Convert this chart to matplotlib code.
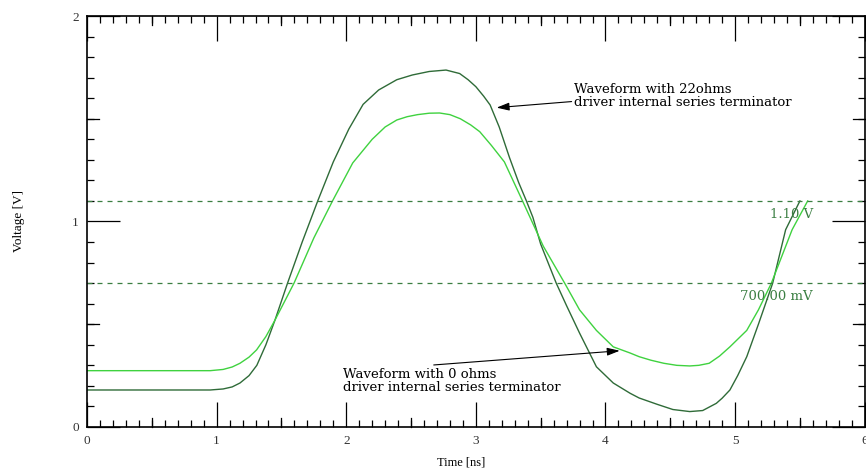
import matplotlib
matplotlib.use('Agg')
import matplotlib.pyplot as plt
from matplotlib.ticker import MultipleLocator

plt.rcParams['font.family'] = ['Liberation Serif', 'DejaVu Serif']

# waveform with 22 ohms series terminator (dark curve)
t_22 = [0.0, 0.95, 1.05, 1.12, 1.18, 1.25, 1.31, 1.38, 1.45, 1.547, 1.66, 1.78,
        1.90, 2.02, 2.13, 2.25, 2.39, 2.51, 2.64, 2.77, 2.875, 2.94, 3.0, 3.06,
        3.11, 3.18, 3.26, 3.33, 3.39, 3.44, 3.50, 3.62, 3.70, 3.80, 3.93, 4.06,
        4.19, 4.26, 4.40, 4.52, 4.65, 4.75, 4.855, 4.90, 4.96, 5.02, 5.09, 5.18,
        5.29, 5.39, 5.50]
v_22 = [0.18, 0.18, 0.185, 0.195, 0.214, 0.25, 0.30, 0.40, 0.52, 0.70, 0.90, 1.10,
        1.29, 1.45, 1.57, 1.64, 1.69, 1.713, 1.73, 1.737, 1.72, 1.69, 1.656, 1.61,
        1.567, 1.46, 1.31, 1.19, 1.10, 1.02, 0.89, 0.70, 0.59, 0.457, 0.293, 0.214,
        0.164, 0.141, 0.11, 0.085, 0.075, 0.08, 0.115, 0.14, 0.18, 0.25, 0.342,
        0.50, 0.70, 0.96, 1.10]

# waveform with 0 ohms series terminator (light curve)
t_0 = [0.0, 0.95, 1.05, 1.12, 1.18, 1.25, 1.308, 1.38, 1.45, 1.597, 1.75, 1.894,
       2.05, 2.2, 2.3, 2.39, 2.47, 2.55, 2.64, 2.72, 2.80, 2.88, 2.96, 3.03, 3.12,
       3.22, 3.36, 3.52, 3.685, 3.80, 3.93, 4.06, 4.19, 4.26, 4.35, 4.45, 4.55,
       4.65, 4.72, 4.80, 4.88, 4.96, 5.09, 5.18, 5.28, 5.36, 5.44, 5.56]
v_0 = [0.274, 0.274, 0.28, 0.292, 0.31, 0.34, 0.375, 0.44, 0.52, 0.70, 0.92, 1.10,
       1.285, 1.40, 1.46, 1.494, 1.51, 1.52, 1.527, 1.528, 1.52, 1.50, 1.47, 1.437,
       1.37, 1.29, 1.10, 0.88, 0.70, 0.57, 0.47, 0.39, 0.36, 0.342, 0.325, 0.31,
       0.30, 0.297, 0.30, 0.31, 0.345, 0.39, 0.47, 0.57, 0.70, 0.83, 0.96, 1.10]

thresholds = [1.10, 0.70]
threshold_labels = ['1.10 V', '700.00 mV']

dark = '#2f6b38'
light = '#3fd23f'
thr_col = '#3b7f42'
wide = ['DejaVu Serif']

fig = plt.figure(figsize=(8.66, 4.75), dpi=100)
ax = fig.add_axes([0.1005, 0.1011, 0.898, 0.8652])

ax.plot(t_22, v_22, color=dark, lw=1.0)
ax.plot(t_0, v_0, color=light, lw=1.0)

for th, lab in zip(thresholds, threshold_labels):
    ax.axhline(th, color=thr_col, lw=0.9, ls=(0, (4, 4)))
    ax.text(5.6, th - 0.065, lab, color=thr_col, fontsize=9.5,
            family=wide, ha='right', va='center')

arrow = dict(arrowstyle='-|>,head_length=0.8,head_width=0.25',
             color='black', lw=0.8, shrinkA=0, shrinkB=0)
ax.annotate('Waveform with 22ohms\ndriver internal series terminator',
            xy=(3.16, 1.554), xytext=(3.76, 1.61), fontsize=9.5, family=wide,
            ha='left', va='center', linespacing=1.0,
            arrowprops=dict(arrow, relpos=(0.0, 0.3)))
ax.annotate('Waveform with 0 ohms\ndriver internal series terminator',
            xy=(4.11, 0.371), xytext=(1.975, 0.225), fontsize=9.5, family=wide,
            ha='left', va='center', linespacing=1.0,
            arrowprops=dict(arrow, relpos=(0.25, 1.0)))

ax.set_xlim(0, 6)
ax.set_ylim(0, 2)

ax.xaxis.set_major_locator(MultipleLocator(1))
ax.xaxis.set_minor_locator(MultipleLocator(0.1))
ax.yaxis.set_major_locator(MultipleLocator(1))
ax.yaxis.set_minor_locator(MultipleLocator(0.1))
ax.tick_params(which='both', direction='in', top=True, right=True,
               labelsize=9.5, labelcolor='#333333', width=0.9)
ax.tick_params(axis='x', which='major', length=18, pad=6)
ax.tick_params(axis='y', which='major', length=24, pad=6)
ax.tick_params(which='minor', length=5)

# medium ticks at the halves
for x in [0.5, 1.5, 2.5, 3.5, 4.5, 5.5]:
    ax.plot([x, x], [0, 0.045], color='black', lw=0.9, clip_on=False)
    ax.plot([x, x], [2, 2 - 0.045], color='black', lw=0.9, clip_on=False)
for y in [0.5, 1.5]:
    ax.plot([0, 0.09], [y, y], color='black', lw=0.9, clip_on=False)
    ax.plot([6, 6 - 0.09], [y, y], color='black', lw=0.9, clip_on=False)

for s in ax.spines.values():
    s.set_linewidth(1.2)

ax.set_xlabel('Time [ns]', fontsize=9)
ax.xaxis.set_label_coords(0.481, -0.072)
ax.set_ylabel('Voltage [V]', fontsize=9.5, labelpad=34)

fig.savefig('out.png', dpi=100)
